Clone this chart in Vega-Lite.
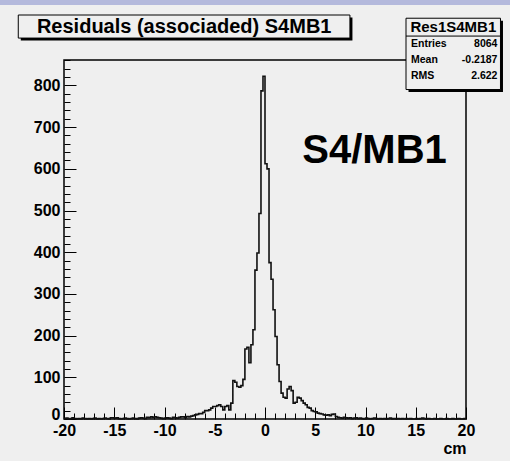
{
  "$schema": "https://vega.github.io/schema/vega-lite/v6.json",
  "width": 402,
  "height": 359,
  "autosize": {"type": "none"},
  "padding": {"left": 64, "top": 60, "right": 44, "bottom": 42},
  "background": "#efefef",
  "config": {"view": {"stroke": null}},
  "datasets": {
    "hist": [
      {"x":-20,"n":1},{"x":-19.8,"n":2},{"x":-19.6,"n":0},{"x":-19.4,"n":1},{"x":-19.2,"n":3},{"x":-19,"n":1},{"x":-18.8,"n":0},{"x":-18.6,"n":1},{"x":-18.4,"n":0},{"x":-18.2,"n":2},
      {"x":-18,"n":1},{"x":-17.8,"n":0},{"x":-17.6,"n":1},{"x":-17.4,"n":0},{"x":-17.2,"n":1},{"x":-17,"n":2},{"x":-16.8,"n":0},{"x":-16.6,"n":1},{"x":-16.4,"n":0},{"x":-16.2,"n":1},
      {"x":-16,"n":2},{"x":-15.8,"n":1},{"x":-15.6,"n":0},{"x":-15.4,"n":3},{"x":-15.2,"n":3},{"x":-15,"n":2},{"x":-14.8,"n":3},{"x":-14.6,"n":1},{"x":-14.4,"n":0},{"x":-14.2,"n":1},
      {"x":-14,"n":2},{"x":-13.8,"n":1},{"x":-13.6,"n":0},{"x":-13.4,"n":1},{"x":-13.2,"n":2},{"x":-13,"n":1},{"x":-12.8,"n":0},{"x":-12.6,"n":2},{"x":-12.4,"n":3},{"x":-12.2,"n":2},
      {"x":-12,"n":1},{"x":-11.8,"n":4},{"x":-11.6,"n":3},{"x":-11.4,"n":5},{"x":-11.2,"n":4},{"x":-11,"n":5},{"x":-10.8,"n":4},{"x":-10.6,"n":3},{"x":-10.4,"n":2},{"x":-10.2,"n":1},
      {"x":-10,"n":2},{"x":-9.8,"n":3},{"x":-9.6,"n":2},{"x":-9.4,"n":1},{"x":-9.2,"n":4},{"x":-9,"n":3},{"x":-8.8,"n":2},{"x":-8.6,"n":4},{"x":-8.4,"n":5},{"x":-8.2,"n":5},
      {"x":-8,"n":3},{"x":-7.8,"n":6},{"x":-7.6,"n":5},{"x":-7.4,"n":7},{"x":-7.2,"n":8},{"x":-7,"n":10},{"x":-6.8,"n":11},{"x":-6.6,"n":13},{"x":-6.4,"n":13},{"x":-6.2,"n":16},
      {"x":-6,"n":20},{"x":-5.8,"n":20},{"x":-5.6,"n":22},{"x":-5.4,"n":26},{"x":-5.2,"n":30},{"x":-5,"n":30},{"x":-4.8,"n":32},{"x":-4.6,"n":34},{"x":-4.4,"n":30},{"x":-4.2,"n":22},
      {"x":-4,"n":30},{"x":-3.8,"n":32},{"x":-3.6,"n":22},{"x":-3.4,"n":38},{"x":-3.2,"n":92},{"x":-3,"n":88},{"x":-2.8,"n":78},{"x":-2.6,"n":76},{"x":-2.4,"n":80},{"x":-2.2,"n":95},
      {"x":-2,"n":168},{"x":-1.8,"n":172},{"x":-1.6,"n":135},{"x":-1.4,"n":178},{"x":-1.2,"n":214},{"x":-1,"n":357},{"x":-0.8,"n":398},{"x":-0.6,"n":493},{"x":-0.4,"n":787},{"x":-0.2,"n":822},
      {"x":0,"n":612},{"x":0.2,"n":600},{"x":0.4,"n":375},{"x":0.6,"n":335},{"x":0.8,"n":262},{"x":1,"n":198},{"x":1.2,"n":130},{"x":1.4,"n":90},{"x":1.6,"n":62},{"x":1.8,"n":52},
      {"x":2,"n":50},{"x":2.2,"n":72},{"x":2.4,"n":78},{"x":2.6,"n":68},{"x":2.8,"n":38},{"x":3,"n":40},{"x":3.2,"n":52},{"x":3.4,"n":50},{"x":3.6,"n":44},{"x":3.8,"n":38},
      {"x":4,"n":34},{"x":4.2,"n":28},{"x":4.4,"n":26},{"x":4.6,"n":20},{"x":4.8,"n":18},{"x":5,"n":17},{"x":5.2,"n":14},{"x":5.4,"n":13},{"x":5.6,"n":12},{"x":5.8,"n":10},
      {"x":6,"n":9},{"x":6.2,"n":10},{"x":6.4,"n":8},{"x":6.6,"n":11},{"x":6.8,"n":12},{"x":7,"n":6},{"x":7.2,"n":4},{"x":7.4,"n":3},{"x":7.6,"n":2},{"x":7.8,"n":4},
      {"x":8,"n":3},{"x":8.2,"n":2},{"x":8.4,"n":3},{"x":8.6,"n":1},{"x":8.8,"n":2},{"x":9,"n":3},{"x":9.2,"n":1},{"x":9.4,"n":2},{"x":9.6,"n":1},{"x":9.8,"n":0},
      {"x":10,"n":2},{"x":10.2,"n":1},{"x":10.4,"n":0},{"x":10.6,"n":1},{"x":10.8,"n":2},{"x":11,"n":1},{"x":11.2,"n":0},{"x":11.4,"n":1},{"x":11.6,"n":0},{"x":11.8,"n":1},
      {"x":12,"n":0},{"x":12.2,"n":1},{"x":12.4,"n":2},{"x":12.6,"n":0},{"x":12.8,"n":1},{"x":13,"n":0},{"x":13.2,"n":1},{"x":13.4,"n":0},{"x":13.6,"n":1},{"x":13.8,"n":0},
      {"x":14,"n":1},{"x":14.2,"n":0},{"x":14.4,"n":1},{"x":14.6,"n":0},{"x":14.8,"n":0},{"x":15,"n":1},{"x":15.2,"n":0},{"x":15.4,"n":1},{"x":15.6,"n":2},{"x":15.8,"n":1},
      {"x":16,"n":0},{"x":16.2,"n":1},{"x":16.4,"n":0},{"x":16.6,"n":0},{"x":16.8,"n":1},{"x":17,"n":0},{"x":17.2,"n":0},{"x":17.4,"n":1},{"x":17.6,"n":0},{"x":17.8,"n":0},
      {"x":18,"n":1},{"x":18.2,"n":0},{"x":18.4,"n":0},{"x":18.6,"n":1},{"x":18.8,"n":0},{"x":19,"n":0},{"x":19.2,"n":1},{"x":19.4,"n":0},{"x":19.6,"n":0},{"x":19.8,"n":1},
      {"x":20,"n":1}
    ]
  },
  "resolve": {"axis": {"x": "independent", "y": "independent"}},
  "layer": [
    {
      "data": {"values": [{}]},
      "mark": {"type": "rect", "fillOpacity": 0, "stroke": "black", "strokeWidth": 1.5},
      "encoding": {
        "x": {"datum": -20, "type": "quantitative", "scale": {"domain": [-20, 20], "nice": false, "zero": false},
              "axis": {"orient": "bottom", "values": [-19,-18,-17,-16,-14,-13,-12,-11,-9,-8,-7,-6,-4,-3,-2,-1,1,2,3,4,6,7,8,9,11,12,13,14,16,17,18,19],
                       "labels": false, "tickSize": -6, "tickColor": "black", "tickWidth": 1, "domain": false, "grid": false, "title": null}},
        "x2": {"datum": 20},
        "y": {"datum": 0, "type": "quantitative", "scale": {"domain": [0, 861], "nice": false},
              "axis": {"orient": "left", "values": [20,40,60,80,120,140,160,180,220,240,260,280,320,340,360,380,420,440,460,480,520,540,560,580,620,640,660,680,720,740,760,780,820,840,860],
                       "labels": false, "tickSize": -6, "tickColor": "black", "tickWidth": 1, "domain": false, "grid": false, "title": null}},
        "y2": {"datum": 861}
      }
    },
    {
      "data": {"name": "hist"},
      "mark": {"type": "line", "interpolate": "step-after", "color": "#111111", "strokeWidth": 1.6},
      "encoding": {
        "x": {"field": "x", "type": "quantitative",
              "axis": {"orient": "bottom", "values": [-20,-15,-10,-5,0,5,10,15,20], "tickSize": -12, "tickColor": "black", "tickWidth": 1,
                       "domain": false, "grid": false, "labelPadding": 15, "labelFlush": false, "labelOverlap": false,
                       "labelExpr": "'' + datum.value",
                       "labelFont": "Liberation Sans", "labelFontWeight": "bold", "labelFontSize": 16, "labelColor": "black",
                       "title": "cm", "titleAnchor": "end", "titleFont": "Liberation Sans", "titleFontWeight": "bold", "titleFontSize": 16, "titleColor": "black", "titlePadding": 2}},
        "y": {"field": "n", "type": "quantitative",
              "axis": {"orient": "left", "values": [0,100,200,300,400,500,600,700,800], "tickSize": -12, "tickColor": "black", "tickWidth": 1,
                       "domain": false, "grid": false, "labelPadding": 16, "labelOverlap": false,
                       "labelOffset": {"condition": {"test": "datum.value === 0", "value": -5}, "value": 0},
                       "labelFont": "Liberation Sans", "labelFontWeight": "bold", "labelFontSize": 16, "labelColor": "black", "title": null}}
      }
    },
    {
      "data": {"values": [{}]},
      "mark": {"type": "text", "text": "S4/MB1", "font": "Liberation Sans", "fontWeight": "bold", "fontSize": 40, "align": "center", "baseline": "alphabetic", "color": "black"},
      "encoding": {
        "x": {"datum": 10.9, "type": "quantitative", "axis": null},
        "y": {"datum": 614, "type": "quantitative", "axis": null}
      }
    },
    {
      "data": {"values": [{}]},
      "mark": {"type": "rect", "fill": "#b4b9dc"},
      "encoding": {
        "x": {"datum": -26.4, "type": "quantitative", "axis": null},
        "x2": {"datum": 24.4},
        "y": {"datum": 993, "type": "quantitative", "axis": null},
        "y2": {"datum": 1006}
      }
    },
    {
      "data": {"values": [{}]},
      "mark": {"type": "rect", "fill": "black"},
      "encoding": {
        "x": {"datum": -24.3, "type": "quantitative", "axis": null},
        "x2": {"datum": 8.7},
        "y": {"datum": 907.6, "type": "quantitative", "axis": null},
        "y2": {"datum": 962.9}
      }
    },
    {
      "data": {"values": [{}]},
      "mark": {"type": "rect", "fill": "#efefef", "stroke": "black", "strokeWidth": 1},
      "encoding": {
        "x": {"datum": -24.55, "type": "quantitative", "axis": null},
        "x2": {"datum": 8.45},
        "y": {"datum": 913.6, "type": "quantitative", "axis": null},
        "y2": {"datum": 968.9}
      }
    },
    {
      "data": {"values": [{}]},
      "mark": {"type": "text", "text": "Residuals (associaded) S4MB1", "font": "Liberation Sans", "fontWeight": "bold", "fontSize": 20, "align": "center", "baseline": "alphabetic", "color": "black"},
      "encoding": {
        "x": {"datum": -8.04, "type": "quantitative", "axis": null},
        "y": {"datum": 925, "type": "quantitative", "axis": null}
      }
    },
    {
      "data": {"values": [{}]},
      "mark": {"type": "rect", "fill": "black"},
      "encoding": {
        "x": {"datum": 14.28, "type": "quantitative", "axis": null},
        "x2": {"datum": 23.68},
        "y": {"datum": 784.2, "type": "quantitative", "axis": null},
        "y2": {"datum": 955.2}
      }
    },
    {
      "data": {"values": [{}]},
      "mark": {"type": "rect", "fill": "#efefef", "stroke": "black", "strokeWidth": 1},
      "encoding": {
        "x": {"datum": 14.03, "type": "quantitative", "axis": null},
        "x2": {"datum": 23.43},
        "y": {"datum": 790.2, "type": "quantitative", "axis": null},
        "y2": {"datum": 961.2}
      }
    },
    {
      "data": {"values": [{}]},
      "mark": {"type": "rule", "color": "black", "strokeWidth": 1},
      "encoding": {
        "x": {"datum": 14.03, "type": "quantitative", "axis": null},
        "x2": {"datum": 23.43},
        "y": {"datum": 918.4, "type": "quantitative", "axis": null}
      }
    },
    {
      "data": {"values": [{}]},
      "mark": {"type": "text", "text": "Res1S4MB1", "font": "Liberation Sans", "fontWeight": "bold", "fontSize": 15, "align": "center", "baseline": "alphabetic", "color": "black"},
      "encoding": {
        "x": {"datum": 18.74, "type": "quantitative", "axis": null},
        "y": {"datum": 927.3, "type": "quantitative", "axis": null}
      }
    },
    {
      "data": {"values": [{"label": "Entries", "val": "8064", "row": 893.1}, {"label": "Mean", "val": "-0.2187", "row": 854.5}, {"label": "RMS", "val": "2.622", "row": 816.2}]},
      "layer": [
        {
          "mark": {"type": "text", "font": "Liberation Sans", "fontWeight": "bold", "fontSize": 10.5, "align": "left", "baseline": "alphabetic", "color": "black"},
          "encoding": {
            "x": {"datum": 14.53, "type": "quantitative", "axis": null},
            "y": {"field": "row", "type": "quantitative", "axis": null},
            "text": {"field": "label"}
          }
        },
        {
          "mark": {"type": "text", "font": "Liberation Sans", "fontWeight": "bold", "fontSize": 10.5, "align": "right", "baseline": "alphabetic", "color": "black"},
          "encoding": {
            "x": {"datum": 23.13, "type": "quantitative", "axis": null},
            "y": {"field": "row", "type": "quantitative", "axis": null},
            "text": {"field": "val"}
          }
        }
      ]
    }
  ]
}
